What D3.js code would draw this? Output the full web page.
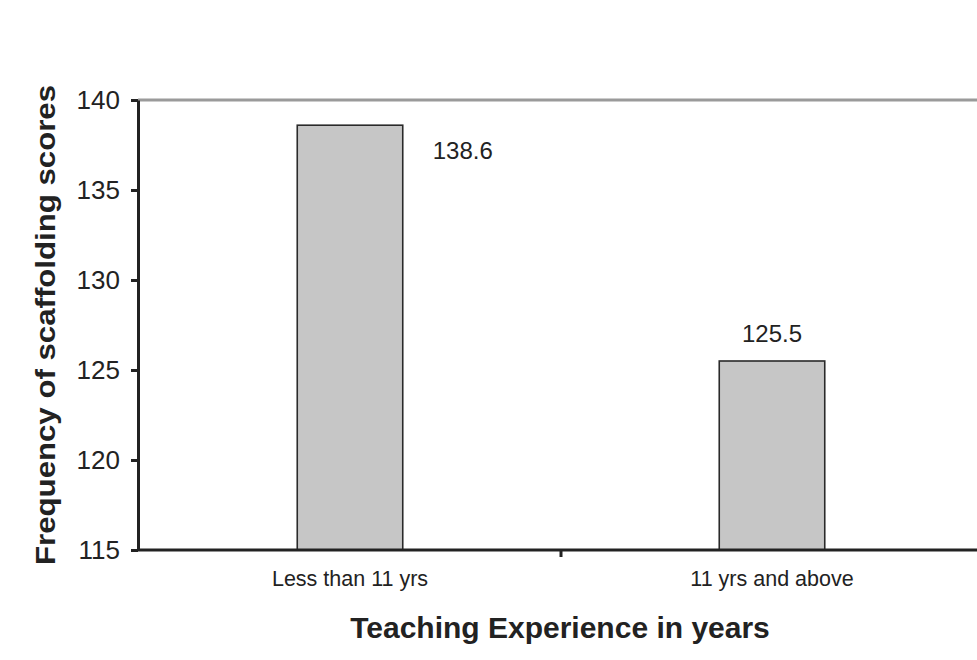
<!DOCTYPE html>
<meta charset="utf-8">
<html>
<head>
  <script src="https://d3js.org/d3.v7.min.js"></script>
  <style>
    body { margin: 0; background: #fff; }
    svg { display: block; font-family: "Liberation Sans", Arial, sans-serif; }
  </style>
</head>
<body>
  <svg></svg>
  <script type="text/javascript">
    // data
    var categories = ['Less than 11 yrs', '11 yrs and above']
    var values = [138.6, 125.5]
    var yTicks = [115, 120, 125, 130, 135, 140]

    var width = 977
    var height = 660

    const svg = d3.select('svg')
      .attr('width', width)
      .attr('height', height)

    var y = d3.scaleLinear().domain([115, 140]).range([550, 100])
    var x = d3.scaleBand()
      .domain(categories)
      .range([139, 983])
      .paddingInner(0.75)
      .paddingOuter(0.375)

    // top gridline (the 140 line, grey)
    svg.append('line')
      .attr('x1', 138).attr('x2', width)
      .attr('y1', y(140)).attr('y2', y(140))
      .attr('stroke', '#9a9a9a')
      .attr('stroke-width', 3)

    // bars
    svg.append('g').selectAll('rect')
      .data(values)
      .enter().append('rect')
      .attr('x', (d, i) => x(categories[i]))
      .attr('y', d => y(d))
      .attr('width', x.bandwidth())
      .attr('height', d => y(115) - y(d))
      .attr('fill', '#c6c6c6')
      .attr('stroke', '#2a2a2a')
      .attr('stroke-width', 1.6)

    // value labels
    svg.append('g').selectAll('text')
      .data(values)
      .enter().append('text')
      .attr('x', (d, i) => i == 0 ? x(categories[i]) + x.bandwidth() + 30 : x(categories[i]) + x.bandwidth() / 2)
      .attr('y', (d, i) => i == 0 ? y(d) + 34 : y(d) - 19)
      .attr('text-anchor', (d, i) => i == 0 ? 'start' : 'middle')
      .attr('font-size', 24)
      .attr('fill', '#222')
      .text(d => d.toFixed(1))

    // y axis
    var yAxis = svg.append('g')
      .attr('transform', 'translate(138,0)')
      .call(d3.axisLeft(y).tickValues(yTicks).tickSize(7).tickSizeOuter(0).tickPadding(11))
    yAxis.select('.domain').attr('stroke', '#222').attr('stroke-width', 3)
    yAxis.selectAll('.tick line').attr('stroke', '#222').attr('stroke-width', 3)
    yAxis.selectAll('.tick text')
      .attr('font-size', 26)
      .attr('fill', '#222')
      .attr('font-family', '"Liberation Sans", Arial, sans-serif')

    // x axis
    var xAxis = svg.append('g')
      .attr('transform', 'translate(0,' + y(115) + ')')
      .call(d3.axisBottom(x).tickSize(0).tickSizeOuter(0).tickPadding(21))
    xAxis.select('.domain').remove()
    xAxis.selectAll('.tick text')
      .attr('font-size', 21.5)
      .attr('fill', '#222')
      .attr('font-family', '"Liberation Sans", Arial, sans-serif')

    svg.append('line')
      .attr('x1', 137).attr('x2', width)
      .attr('y1', y(115)).attr('y2', y(115))
      .attr('stroke', '#222')
      .attr('stroke-width', 3)

    // category boundary tick
    var boundary = x(categories[1]) - x.step() * x.paddingInner() / 2
    svg.append('line')
      .attr('x1', boundary).attr('x2', boundary)
      .attr('y1', y(115)).attr('y2', y(115) + 7)
      .attr('stroke', '#222')
      .attr('stroke-width', 3)

    // axis titles
    svg.append('text')
      .attr('x', 560)
      .attr('y', 638)
      .attr('text-anchor', 'middle')
      .attr('font-size', 30)
      .attr('font-weight', 'bold')
      .attr('fill', '#222')
      .text('Teaching Experience in years')

    svg.append('text')
      .attr('transform', 'translate(55,325) rotate(-90)')
      .attr('text-anchor', 'middle')
      .attr('font-size', 27)
      .attr('font-weight', 'bold')
      .attr('fill', '#222')
      .attr('textLength', 480)
      .attr('lengthAdjust', 'spacingAndGlyphs')
      .text('Frequency of scaffolding scores')
  </script>
</body>
</html>
